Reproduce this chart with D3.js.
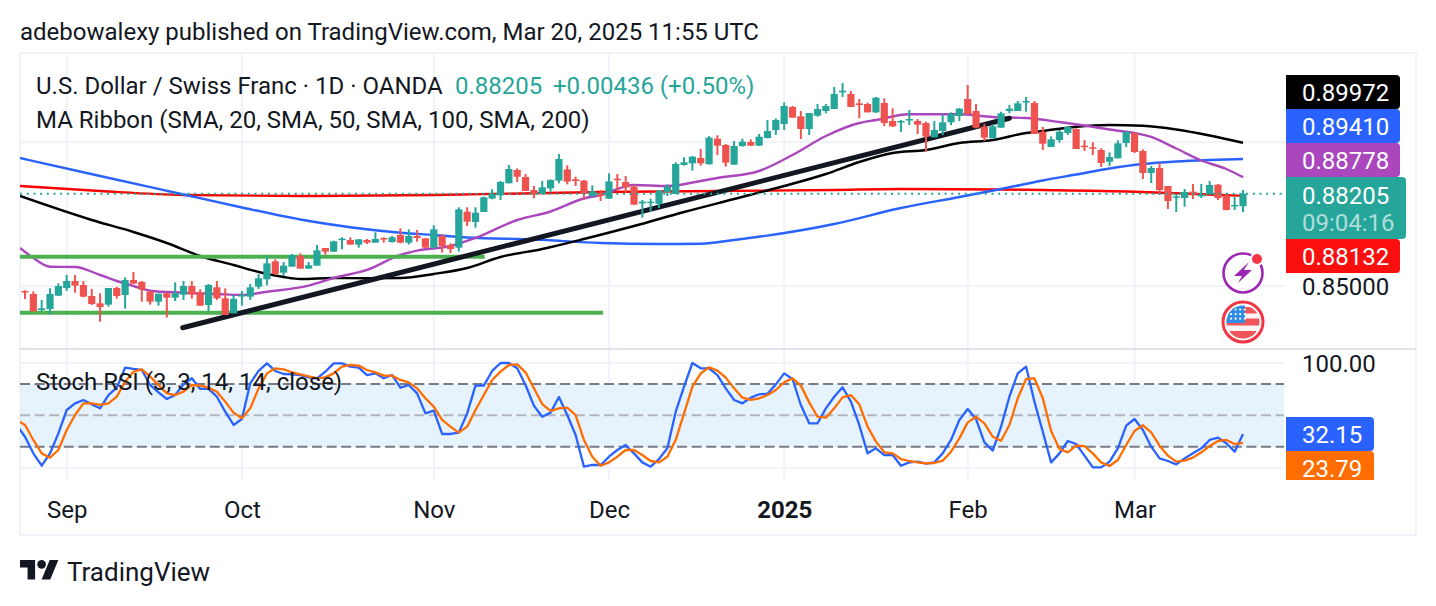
<!DOCTYPE html>
<html>
<head>
<meta charset="utf-8">
<title>USD/CHF daily</title>
<script src="https://cdn.jsdelivr.net/npm/d3@7/dist/d3.min.js"></script>
<style>
  html, body { margin: 0; padding: 0; background: #fff; }
  svg { display: block; }
  text { font-family: Roboto, sans-serif; }
</style>
</head>
<body>
<div id="chart"></div>
<script>
// USD/CHF daily candles, late Aug 2024 through 20 Mar 2025
const opens = [0.84827,0.84723,0.84167,0.84202,0.84665,0.84931,0.85174,0.85035,0.84653,0.84398,
0.84352,0.84931,0.84688,0.85209,0.85139,0.84804,0.84456,0.84746,0.84595,0.84699,
0.85000,0.84780,0.84341,0.84954,0.84572,0.84051,0.84642,0.84630,0.84977,0.85232,
0.85857,0.85463,0.85672,0.86042,0.85602,0.85706,0.86320,0.86192,0.86598,0.86598,
0.86436,0.86598,0.86505,0.86667,0.86528,0.86771,0.86505,0.86736,0.86655,0.86331,
0.86736,0.86424,0.86331,0.87581,0.87222,0.87570,0.88033,0.88148,0.88565,0.89028,
0.88785,0.88333,0.88195,0.88391,0.88658,0.89051,0.88704,0.88658,0.88125,0.88241,
0.88033,0.88727,0.88611,0.88449,0.87870,0.87894,0.87847,0.88264,0.88195,0.89202,
0.89259,0.89445,0.89225,0.90116,0.89896,0.89213,0.89861,0.90000,0.89873,0.90139,
0.90416,0.90625,0.91215,0.90891,0.90451,0.90914,0.91076,0.91145,0.91724,0.91666,
0.91342,0.91319,0.91030,0.91354,0.90729,0.90683,0.90752,0.90729,0.90659,0.90162,
0.90382,0.90683,0.90902,0.91493,0.91076,0.90532,0.90127,0.90497,0.91076,0.91076,
0.91377,0.91354,0.90358,0.89826,0.90070,0.90313,0.90451,0.89873,0.89815,0.89722,
0.89317,0.89433,0.89965,0.90301,0.89688,0.88924,0.89097,0.88472,0.88067,0.88056,
0.88276,0.88114,0.88183,0.88519,0.88148,0.87766,0.87769];
const highs = [0.84850,0.84815,0.84514,0.84919,0.85093,0.85382,0.85382,0.85174,0.84896,0.84746,
0.84931,0.84977,0.85301,0.85486,0.85174,0.84838,0.84734,0.84769,0.85128,0.85174,
0.85174,0.84885,0.85070,0.85174,0.84919,0.84688,0.84827,0.85070,0.85405,0.86065,
0.85926,0.85834,0.86111,0.86135,0.85834,0.86424,0.86320,0.86574,0.86690,0.86690,
0.86621,0.86632,0.86864,0.86690,0.86736,0.87003,0.86968,0.86945,0.86655,0.87107,
0.86806,0.86482,0.87732,0.87732,0.87732,0.88102,0.88357,0.88646,0.89202,0.89086,
0.88889,0.88472,0.88646,0.88704,0.89583,0.89190,0.88796,0.88681,0.88495,0.88333,
0.88912,0.88889,0.88820,0.88507,0.87986,0.88033,0.88333,0.88530,0.89294,0.89468,
0.89514,0.89757,0.90208,0.90232,0.89931,0.90035,0.90116,0.90093,0.90278,0.90764,
0.90821,0.91377,0.91250,0.91076,0.91007,0.91319,0.91319,0.91909,0.92048,0.91770,
0.91493,0.91365,0.91562,0.91516,0.91169,0.90764,0.91111,0.90798,0.90706,0.90729,
0.90960,0.91030,0.91180,0.91979,0.91319,0.90636,0.90613,0.91053,0.91284,0.91423,
0.91562,0.91423,0.90520,0.90197,0.90417,0.90556,0.90475,0.90070,0.89989,0.89780,
0.89641,0.90058,0.90370,0.90336,0.89745,0.89167,0.89271,0.88472,0.88206,0.88368,
0.88542,0.88542,0.88646,0.88542,0.88218,0.88090,0.88333];
const lows = [0.84549,0.84109,0.84109,0.84017,0.84653,0.84827,0.84769,0.84607,0.84341,0.83762,
0.84283,0.84561,0.84213,0.85070,0.84456,0.84352,0.84317,0.83901,0.84479,0.84514,
0.84561,0.84306,0.84132,0.84514,0.83993,0.84051,0.84317,0.84514,0.84896,0.85023,
0.85382,0.85348,0.85672,0.85602,0.85602,0.85706,0.86088,0.86181,0.86273,0.86436,
0.86331,0.86459,0.86505,0.86505,0.86505,0.86482,0.86436,0.86540,0.86320,0.86308,
0.86158,0.86146,0.86192,0.87083,0.87026,0.87570,0.88009,0.87986,0.88565,0.88611,
0.88299,0.88044,0.88195,0.88276,0.88565,0.88530,0.88472,0.88009,0.88102,0.87951,
0.88033,0.88310,0.88241,0.87824,0.87373,0.87581,0.87708,0.88125,0.88195,0.89178,
0.89005,0.89178,0.89225,0.89549,0.89144,0.89213,0.89838,0.89861,0.89861,0.90127,
0.90243,0.90416,0.90845,0.90104,0.90243,0.90879,0.90995,0.91145,0.91562,0.91215,
0.90821,0.91030,0.91007,0.90555,0.90520,0.90347,0.90590,0.90277,0.89664,0.90162,
0.90243,0.90590,0.90729,0.90960,0.90474,0.90034,0.90127,0.90497,0.90995,0.91076,
0.91053,0.90277,0.89722,0.89826,0.89977,0.90243,0.89757,0.89688,0.89549,0.89132,
0.89167,0.89433,0.89826,0.89618,0.88715,0.88576,0.88160,0.87674,0.87570,0.87755,
0.88021,0.88056,0.88183,0.87986,0.87627,0.87639,0.87570];
const closes = [0.84780,0.84121,0.84225,0.84723,0.85000,0.85174,0.85012,0.84630,0.84375,0.84271,
0.84931,0.84653,0.85209,0.85081,0.84873,0.84456,0.84734,0.84595,0.84746,0.85000,
0.84711,0.84317,0.85035,0.84572,0.83993,0.84549,0.84688,0.84954,0.85267,0.85787,
0.85417,0.85706,0.86077,0.85602,0.85718,0.86239,0.86192,0.86551,0.86644,0.86436,
0.86621,0.86505,0.86632,0.86621,0.86690,0.86505,0.86736,0.86667,0.86331,0.86968,
0.86389,0.86285,0.87662,0.87234,0.87546,0.88079,0.88195,0.88611,0.89063,0.88796,
0.88299,0.88195,0.88426,0.88681,0.89410,0.88623,0.88646,0.88195,0.88287,0.88125,
0.88634,0.88681,0.88426,0.87824,0.87928,0.87928,0.88310,0.88449,0.89236,0.89294,
0.89491,0.89259,0.90151,0.89873,0.89283,0.89861,0.90012,0.89873,0.90185,0.90382,
0.90764,0.91250,0.90845,0.90451,0.91007,0.91145,0.91250,0.91666,0.91782,0.91215,
0.91284,0.91030,0.91539,0.90659,0.90544,0.90729,0.90798,0.90601,0.90185,0.90416,
0.90683,0.90972,0.91157,0.90972,0.90497,0.90150,0.90544,0.90995,0.91157,0.91342,
0.91423,0.90277,0.89942,0.90093,0.90359,0.90521,0.89757,0.89850,0.89780,0.89271,
0.89479,0.89954,0.90347,0.89653,0.88924,0.89097,0.88333,0.87951,0.88114,0.88264,
0.88183,0.88183,0.88507,0.88056,0.87639,0.87813,0.88205];

// Moving-average ribbon: bar numbers and readings for each average
const sma20Bars = [-0.6,1,3,6,9,11,13,15,19,23,26,29,34,37,41,45,47,51,54,59,63,67,69,73,77,81,83,88,92,96,100,102,106,112,116,120,124,130,135,138,141,144,146];
const sma20 = [0.86320,0.85972,0.85670,0.85660,0.85382,0.85174,0.85000,0.84837,0.84768,0.84723,0.84688,0.84802,0.85011,0.85278,0.85556,0.86077,0.86226,0.86389,0.86667,0.87292,0.87587,0.88038,0.88160,0.88507,0.88472,0.88646,0.88750,0.88993,0.89549,0.90208,0.90660,0.90764,0.90962,0.90962,0.90868,0.90833,0.90694,0.90434,0.90174,0.89774,0.89358,0.89063,0.88778];
const sma50Bars = [-0.6,8,13,17,21,25,28,31,33,37,41,45,49,53,57,62,67,73,79,85,91,96,100,104,108,112,116,120,122,126,130,134,138,142,146];
const sma50 = [0.88125,0.87292,0.86875,0.86493,0.86042,0.85729,0.85486,0.85313,0.85243,0.85278,0.85268,0.85278,0.85417,0.85625,0.86007,0.86285,0.86632,0.87083,0.87570,0.88021,0.88472,0.88889,0.89306,0.89618,0.89722,0.89965,0.90069,0.90312,0.90382,0.90531,0.90590,0.90562,0.90434,0.90226,0.89972];
const sma100Bars = [-0.6,9,19,26,33,45,49,53,61,69,76,81,85,97,105,112,117,122,126,130,134,138,142,146];
const sma100 = [0.89444,0.88820,0.88177,0.87726,0.87309,0.86851,0.86771,0.86684,0.86615,0.86493,0.86459,0.86469,0.86597,0.87153,0.87708,0.88090,0.88368,0.88663,0.88872,0.89080,0.89236,0.89323,0.89375,0.89410];
const sma200Bars = [-0.6,9,19,33,49,69,97,105,117,122,133,141,146];
const sma200 = [0.88472,0.88299,0.88160,0.88125,0.88160,0.88264,0.88333,0.88368,0.88351,0.88333,0.88274,0.88184,0.88132];

// Hand-drawn levels, as [start bar, start price, end bar, end price]
const trendLine = [18.9,0.83552,118,0.90823];
const upperLevel = [-0.6,0.86018,55.1,0.86018];
const lowerLevel = [-0.6,0.84073,69.3,0.84073];

// Stochastic RSI, one reading per bar starting one bar before the first candle
const stochK = [40.8,29.6,13.7,1.9,13.7,32.8,55.1,61.5,64.7,60.5,56.7,69.4,76.4,95.5,94.3,93.3,79.0,72.0,65.6,69.4,79.6,85.4,75.2,75.2,67.8,53.5,40.8,46.5,80.6,92.4,99.7,92.4,89.5,89.2,88.5,86.3,85.4,91.7,99.7,99.7,96.5,95.5,88.5,90.1,85.4,88.5,76.4,79.0,71.0,51.9,54.5,32.2,32.2,33.5,51.9,78.4,78.4,92.4,100,100,94.9,79.0,59.3,48.7,52.6,67.5,50.3,31.2,1.0,2.6,2.6,10.5,16.9,21.7,13.7,5.1,1.0,8.3,18.5,53.5,77.4,100,94.9,94.9,88.5,75.8,64.7,61.5,66.9,70.1,70.7,79.6,90.1,84.7,59.9,42.4,42.4,56.7,67.8,76.8,63.1,40.8,13.7,18.5,12.1,12.1,1.9,5.1,5.8,3.8,5.1,13.7,26.5,45.6,56.1,46.5,24.2,16.3,39.2,67.8,90.1,96.5,63.1,34.4,5.1,13.7,25.5,22.6,11.5,0.3,0.3,5.8,18.5,40.1,46.5,36.0,20.1,8.9,6.4,3.2,8.9,13.7,18.5,26.5,28.7,23.3,15.3,32.15];
const stochD = [45.6,40.8,26.5,13.7,9.6,16.9,36.0,50.3,61.5,61.5,59.9,61.5,67.8,82.2,91.7,94.0,87.0,79.0,71.0,69.4,72.6,79.0,78.4,76.4,72.6,63.1,52.6,47.2,56.7,75.8,90.1,94.9,94.0,91.1,89.2,87.3,85.4,86.3,90.1,96.5,98.1,97.5,93.3,91.1,87.9,87.9,83.8,81.5,75.8,66.3,58.3,45.6,39.2,33.5,39.2,55.1,69.4,83.8,91.7,98.1,98.7,91.1,75.8,60.8,54.2,56.7,57.3,50.3,26.5,10.5,1.9,5.1,10.5,16.9,16.9,12.1,6.4,5.1,10.5,26.5,51.9,77.4,90.1,95.9,92.7,86.0,75.8,66.9,64.7,66.3,69.4,74.2,81.5,85.4,78.4,62.4,48.7,47.8,56.7,67.2,69.4,60.5,39.2,24.9,14.7,13.7,8.3,6.4,5.1,4.1,4.5,6.7,15.3,28.0,43.3,48.7,42.4,29.6,25.8,40.8,66.3,84.7,85.4,66.3,35.1,17.9,14.7,21.0,20.7,13.7,5.1,1.6,7.4,21.7,35.1,40.5,33.8,21.0,11.5,5.8,6.7,9.6,14.7,20.7,25.5,26.5,22.6,23.79];

// Time axis
const monthLabels = ["Sep","Oct","Nov","Dec","2025","Feb","Mar"];
const monthBars = [5,26,49,70,91,113,133];

// Price axis flags
const priceFlags = [
  {label:"0.89972", fill:"#000000"},
  {label:"0.89410", fill:"#2962ff"},
  {label:"0.88778", fill:"#ab47bc"}
];
const lastPrice = 0.88205;
const lastPriceText = "0.88205";
const countdownText = "09:04:16";
const sma200Text = "0.88132";
const priceTicks = [0.85, 0.90];
const stochTicks = [0, 100];
const stochBands = [20, 50, 80];

const width = 1436, height = 606;
const plotLeft = 20, plotRight = 1284, frameRight = 1416, plotTop = 53, frameBottom = 535, paneBottom = 480, splitY = 349;
const UP = "#26a69a", DOWN = "#ef5350", INK = "#131722", GRID = "#f0f3fa";
const FONT_SIZE = 24;

const barCount = closes.length;
const x = d3.scaleLinear().domain([0, barCount - 1]).range([25, 1243]);
const y = d3.scaleLinear().domain([0.85, 0.90]).range([286, 142]);
const yS = d3.scaleLinear().domain([0, 100]).range([467.7, 363]);

const svg = d3.select("#chart").append("svg").attr("width", width).attr("height", height);
const defs = svg.append("defs");
defs.append("clipPath").attr("id", "pricePane").append("rect").attr("x", plotLeft).attr("y", plotTop).attr("width", plotRight - plotLeft).attr("height", splitY - plotTop);
defs.append("clipPath").attr("id", "stochPane").append("rect").attr("x", plotLeft).attr("y", splitY).attr("width", plotRight - plotLeft).attr("height", paneBottom - splitY);
defs.append("clipPath").attr("id", "axisCrop").append("rect").attr("x", 1284).attr("y", splitY).attr("width", 140).attr("height", paneBottom - splitY);

svg.append("rect").attr("width", width).attr("height", height).attr("fill", "#fff");

// Header line
const label = (sel, txt, px, py, opts = {}) => sel.append("text")
  .attr("x", px).attr("y", py).attr("dy", "0.36em")
  .attr("font-size", opts.size || FONT_SIZE).attr("fill", opts.fill || INK)
  .attr("font-weight", opts.weight || 400).attr("text-anchor", opts.anchor || "start")
  .attr("fill-opacity", opts.opacity || 1).text(txt);

label(svg, "adebowalexy published on TradingView.com, Mar 20, 2025 11:55 UTC", 20, 31);

// Outer frame and grid
svg.append("rect").attr("x", plotLeft).attr("y", plotTop).attr("width", frameRight - plotLeft).attr("height", frameBottom - plotTop)
  .attr("fill", "#fff").attr("stroke", GRID).attr("stroke-width", 2);

const grid = svg.append("g").attr("stroke", GRID).attr("stroke-width", 2);
grid.selectAll("line.v").data(monthBars).join("line").attr("class", "v")
  .attr("x1", d => x(d)).attr("x2", d => x(d)).attr("y1", plotTop).attr("y2", paneBottom);
grid.selectAll("line.hp").data(priceTicks).join("line").attr("class", "hp")
  .attr("x1", plotLeft).attr("x2", plotRight).attr("y1", d => y(d)).attr("y2", d => y(d));
grid.selectAll("line.hs").data(stochTicks).join("line").attr("class", "hs")
  .attr("x1", plotLeft).attr("x2", plotRight).attr("y1", d => yS(d)).attr("y2", d => yS(d));

svg.append("line").attr("x1", plotLeft).attr("x2", frameRight).attr("y1", splitY).attr("y2", splitY)
  .attr("stroke", "#e0e3eb").attr("stroke-width", 2);

// Price pane
const price = svg.append("g").attr("clip-path", "url(#pricePane)");
const maLine = d3.line().curve(d3.curveMonotoneX).x(d => x(d[0])).y(d => y(d[1]));
[[sma200Bars, sma200, "#ff0000"], [sma100Bars, sma100, "#2962ff"], [sma50Bars, sma50, "#000000"], [sma20Bars, sma20, "#ab47bc"]]
  .forEach(([bars, vals, color]) => {
    price.append("path").attr("d", maLine(bars.map((b, i) => [b, vals[i]])))
      .attr("fill", "none").attr("stroke", color).attr("stroke-width", 2.4);
  });

// Drawn levels and the rising trend line
[[upperLevel, "#4caf50", 4], [lowerLevel, "#4caf50", 4], [trendLine, "#131722", 5]].forEach(([s, color, w]) => {
  svg.append("line").attr("x1", x(s[0])).attr("y1", y(s[1])).attr("x2", x(s[2])).attr("y2", y(s[3]))
    .attr("stroke", color).attr("stroke-width", w).attr("stroke-linecap", color === "#131722" ? "round" : "butt");
});

// Candles
const bars = d3.range(barCount);
const candle = svg.append("g").selectAll("g").data(bars).join("g")
  .attr("fill", i => closes[i] >= opens[i] ? UP : DOWN)
  .attr("stroke", i => closes[i] >= opens[i] ? UP : DOWN);
candle.append("line").attr("x1", i => x(i)).attr("x2", i => x(i))
  .attr("y1", i => y(highs[i])).attr("y2", i => y(lows[i])).attr("stroke-width", 2);
candle.append("rect").attr("stroke", "none").attr("x", i => x(i) - 3.6).attr("width", 7.2)
  .attr("y", i => y(Math.max(opens[i], closes[i])))
  .attr("height", i => Math.max(1.5, Math.abs(y(opens[i]) - y(closes[i]))));

// Last price dotted line
svg.append("line").attr("x1", plotLeft).attr("x2", plotRight).attr("y1", y(lastPrice)).attr("y2", y(lastPrice))
  .attr("stroke", UP).attr("stroke-width", 2).attr("stroke-dasharray", "2 4.7");

// Stochastic pane
const stoch = svg.append("g").attr("clip-path", "url(#stochPane)");
stoch.append("rect").attr("x", plotLeft).attr("width", plotRight - plotLeft)
  .attr("y", yS(80)).attr("height", yS(20) - yS(80)).attr("fill", "#e3f2fd").attr("fill-opacity", 0.9);
stoch.selectAll("line.band").data(stochBands).join("line").attr("class", "band")
  .attr("x1", plotLeft).attr("x2", plotRight).attr("y1", d => yS(d)).attr("y2", d => yS(d))
  .attr("stroke", d => d === 50 ? "#b2b5be" : "#787b86").attr("stroke-width", 2).attr("stroke-dasharray", "10 4.6");
const stochLine = d3.line().x((d, i) => x(i - 1)).y(d => yS(d));
[[stochK, "#2962ff"], [stochD, "#ff6d00"]].forEach(([vals, color]) => {
  stoch.append("path").attr("d", stochLine(vals)).attr("fill", "none").attr("stroke", color).attr("stroke-width", 2.3).attr("stroke-linejoin", "round");
});

// Legends
label(svg, "U.S. Dollar / Swiss Franc · 1D · OANDA", 36, 85);
label(svg, "0.88205", 455, 85, {fill: UP});
label(svg, "+0.00436 (+0.50%)", 553, 85, {fill: UP});
label(svg, "MA Ribbon (SMA, 20, SMA, 50, SMA, 100, SMA, 200)", 36, 119);
label(svg, "Stoch RSI (3, 3, 14, 14, close)", 36, 381);

// Axis tick labels
const styleAxis = g => {
  g.select(".domain").remove();
  g.selectAll(".tick line").remove();
  g.selectAll(".tick text").attr("font-family", "Roboto, sans-serif").attr("font-size", FONT_SIZE).attr("fill", INK);
};
svg.append("g").attr("transform", `translate(0,${paneBottom})`)
  .call(d3.axisBottom(x).tickValues(monthBars).tickSize(0).tickPadding(0).tickFormat((d, i) => monthLabels[i]))
  .call(styleAxis)
  .call(g => g.selectAll(".tick text").attr("y", 29).attr("dy", "0.36em")
    .attr("font-weight", (d, i) => monthLabels[i] === "2025" ? 700 : 400));
svg.append("g").attr("transform", "translate(1302,0)")
  .call(d3.axisRight(y).tickValues([0.85]).tickSize(0).tickPadding(0).tickFormat(d3.format(".5f")))
  .call(styleAxis)
  .call(g => g.selectAll(".tick text").attr("dy", "0.36em"));
svg.append("g").attr("transform", "translate(1302,0)")
  .call(d3.axisRight(yS).tickValues([100]).tickSize(0).tickPadding(0).tickFormat(d3.format(".2f")))
  .call(styleAxis)
  .call(g => g.selectAll(".tick text").attr("dy", "0.36em"));

// Value flags on the right
const flag = (sel, px, py, w, h, fill) => sel.append("path")
  .attr("d", `M${px},${py}h${w - 4}a4,4 0 0 1 4,4v${h - 8}a4,4 0 0 1 -4,4h${-(w - 4)}z`).attr("fill", fill);

priceFlags.forEach((f, i) => {
  const top0 = 75 + i * 34;
  flag(svg, 1286, top0, 114, 34, f.fill);
  label(svg, f.label, 1302, top0 + 17.5, {fill: "#fff"});
});
flag(svg, 1286, 177, 120, 62, UP);
label(svg, lastPriceText, 1302, 195, {fill: "#fff"});
label(svg, countdownText, 1302, 222, {fill: "#fff", opacity: 0.65});
flag(svg, 1286, 239, 114, 34, "#fa0e0e");
label(svg, sma200Text, 1302, 256.5, {fill: "#fff"});

const stochFlags = svg.append("g").attr("clip-path", "url(#axisCrop)");
flag(stochFlags, 1286, 417, 88, 34, "#2962ff");
label(stochFlags, d3.format(".2f")(stochK[stochK.length - 1]), 1302, 434.5, {fill: "#fff"});
flag(stochFlags, 1286, 451, 88, 34, "#ff6d00");
label(stochFlags, d3.format(".2f")(stochD[stochD.length - 1]), 1302, 468.5, {fill: "#fff"});

// Event badges
const bolt = svg.append("g").attr("transform", "translate(1243,273)");
bolt.append("circle").attr("r", 19.5).attr("fill", "#fff").attr("stroke", "#9c27b0").attr("stroke-width", 2.6);
bolt.append("path").attr("d", "M6,-11 L-9,3 L-1,3 L-5,10 L9,-3 L1,-3 Z").attr("fill", "#9c27b0");
bolt.append("circle").attr("cx", 14).attr("cy", -14).attr("r", 7).attr("fill", "#fff");
bolt.append("circle").attr("cx", 14).attr("cy", -14).attr("r", 5).attr("fill", "#f23645");

const usFlag = svg.append("g").attr("transform", "translate(1243,322)");
defs.append("clipPath").attr("id", "flagDisc").append("circle").attr("r", 16.5);
usFlag.append("circle").attr("r", 20).attr("fill", "#fff").attr("stroke", "#f23645").attr("stroke-width", 3);
const disc = usFlag.append("g").attr("clip-path", "url(#flagDisc)");
disc.append("rect").attr("x", -17).attr("y", -17).attr("width", 34).attr("height", 34).attr("fill", "#fdf4f5");
[[-15, 6.5], [-3.5, 7], [9, 8]].forEach(([sy, h]) => {
  disc.append("rect").attr("x", -17).attr("y", sy).attr("width", 34).attr("height", h).attr("fill", "#f0555a");
});
disc.append("rect").attr("x", -17).attr("y", -17).attr("width", 19).attr("height", 18).attr("fill", "#2f8be6");
disc.selectAll("circle.star").data(d3.range(12)).join("circle").attr("class", "star")
  .attr("cx", d => -12 + (d % 4) * 4.6).attr("cy", d => -12.5 + Math.floor(d / 4) * 4.6).attr("r", 1.1).attr("fill", "#fff");

// Footer wordmark
const logo = svg.append("g").attr("transform", "translate(20,555.7) scale(1.08)").attr("fill", "#131722");
logo.append("path").attr("d", "M14 22H7V11H0V4h14v18zM28 22h-8l7.5-18h8L28 22z");
logo.append("circle").attr("cx", 20).attr("cy", 8).attr("r", 4);
label(svg, "TradingView", 67, 572, {size: 26});
</script>
</body>
</html>
